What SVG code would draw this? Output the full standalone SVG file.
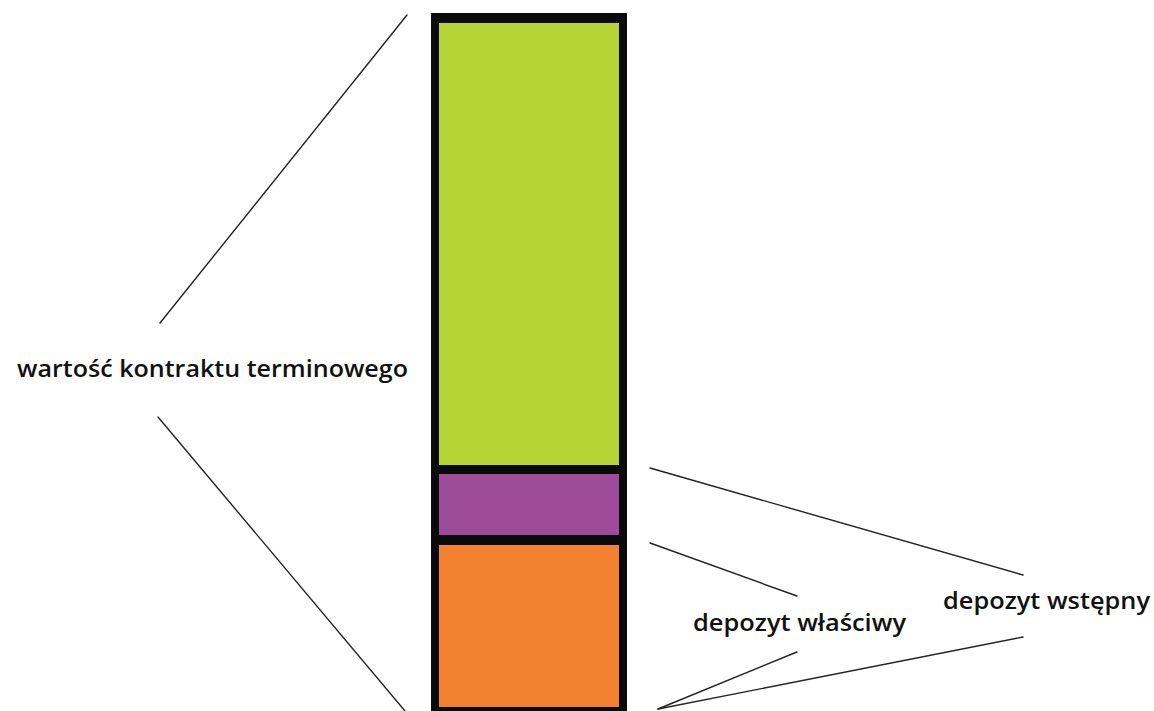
<svg xmlns="http://www.w3.org/2000/svg" width="1154" height="711" viewBox="0 0 1154 711">
  <style>
    .lbl { font-family: "Open Sans", "DejaVu Sans", sans-serif; font-weight: 600; font-size: 23px; fill: #111; }
    .lead { stroke: #222; stroke-width: 1.4; fill: none; stroke-linecap: round; }
  </style>
  <rect x="0" y="0" width="1154" height="711" fill="#ffffff"/>

  <!-- stacked bar -->
  <g id="bar">
    <rect x="431" y="13" width="196" height="710" fill="#0a0a0a"/>
  </g>
  <g id="wartosc-segment">
    <rect x="439" y="23" width="180" height="442" fill="#b8d335"/>
  </g>
  <g id="depozyt-wlasciwy-segment">
    <rect x="439" y="474" width="180" height="61" fill="#9e4c99"/>
  </g>
  <g id="depozyt-wstepny-segment">
    <rect x="439" y="545" width="180" height="162" fill="#f4812f"/>
  </g>

  <!-- leader lines -->
  <g id="connectors">
    <line class="lead" x1="407" y1="15" x2="160" y2="323"/>
    <line class="lead" x1="158" y1="417" x2="405" y2="711"/>
    <line class="lead" x1="650" y1="468" x2="1023" y2="575"/>
    <line class="lead" x1="650" y1="543" x2="797" y2="596"/>
    <line class="lead" x1="658" y1="709" x2="797" y2="652"/>
    <line class="lead" x1="658" y1="709" x2="1023" y2="637"/>
  </g>

  <!-- labels -->
  <g id="label-wartosc">
    <text class="lbl" x="17" y="377" textLength="391" lengthAdjust="spacingAndGlyphs">wartość kontraktu terminowego</text>
  </g>
  <g id="label-wlasciwy">
    <text class="lbl" x="693" y="631" textLength="213" lengthAdjust="spacingAndGlyphs">depozyt właściwy</text>
  </g>
  <g id="label-wstepny">
    <text class="lbl" x="943" y="609" textLength="207" lengthAdjust="spacingAndGlyphs">depozyt wstępny</text>
  </g>
</svg>
